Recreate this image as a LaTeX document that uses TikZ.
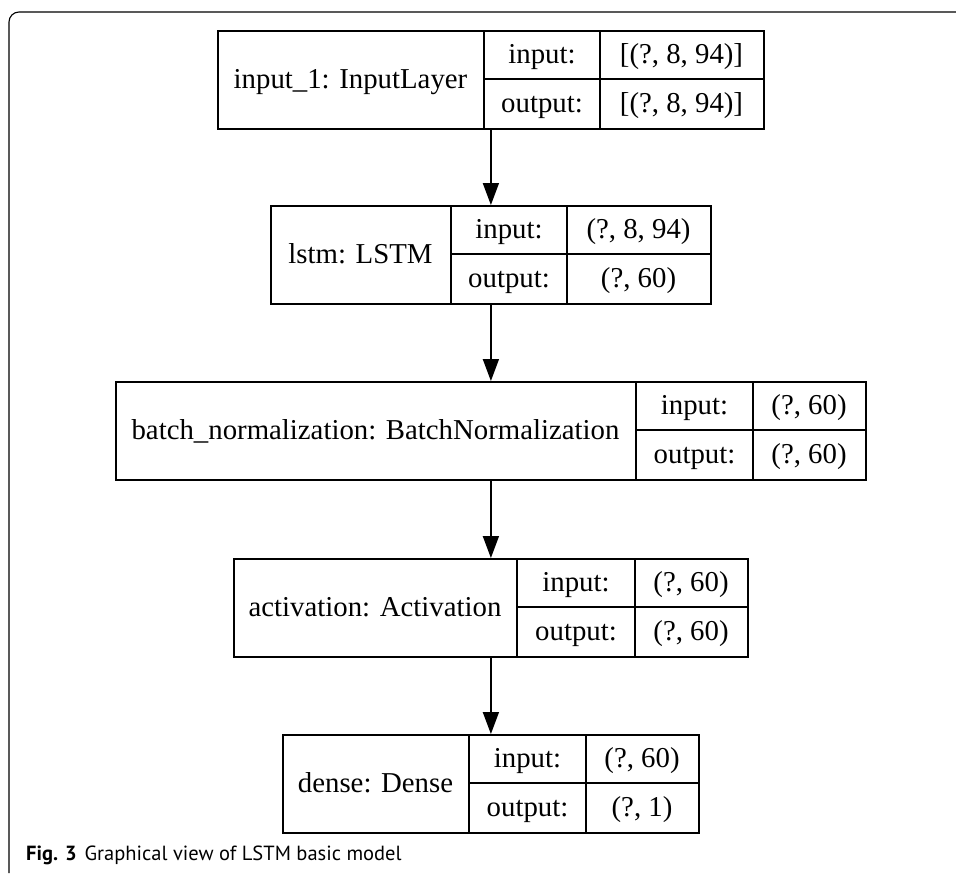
\documentclass[tikz,border=0pt]{standalone}
\usepackage{fontspec}
\setmainfont{Liberation Serif}
\newfontfamily\capfont{PT Sans}
\usetikzlibrary{arrows.meta}
\tikzset{
  layerbox/.style={draw, line width=1.8pt, anchor=north west, inner sep=0pt, minimum height=98pt},
  divider/.style={line width=1.8pt},
  txt/.style={font=\fontsize{28.8}{32}\selectfont, inner sep=0pt, text height=18pt, text depth=0pt},
  flow/.style={line width=1.8pt, -{Triangle[width=16pt,length=22pt]}},
  framestyle/.style={line width=1.1pt, rounded corners=10pt},
}
\newcommand\mklayer[9]{%
  \node[layerbox, minimum width={#5-#2}] (#1) at (#2,#6) {};
  \draw[divider] (#3,#6) -- ({#3},{#6+98});
  \draw[divider] (#4,#6) -- ({#4},{#6+98});
  \draw[divider] ({#3},{#6+49}) -- ({#5},{#6+49});
  \node[txt] (#1name) at ({(#2+#3)/2},{#6+49}) {#7};
  \node[txt] (#1il) at ({(#3+#4)/2},{#6+24.5}) {input:};
  \node[txt] (#1ol) at ({(#3+#4)/2},{#6+73.5}) {output:};
  \node[txt] (#1iv) at ({(#4+#5)/2},{#6+24.5}) {#8};
  \node[txt] (#1ov) at ({(#4+#5)/2},{#6+73.5}) {#9};
}
\begin{document}
\begin{tikzpicture}[x=1pt,y=-1pt]
\useasboundingbox (0,0) rectangle (956,873);
\draw[framestyle] (957,12) -- (9,12) -- (9,873);
\mklayer{L1}{217}{484}{600}{763}{30}{input\_1: InputLayer}{[(?, 8, 94)]}{[(?, 8, 94)]}
\mklayer{L2}{270}{451}{567}{710}{205}{lstm: LSTM}{(?, 8, 94)}{(?, 60)}
\mklayer{L3}{115}{636}{753}{865}{381}{batch\_normalization: BatchNormalization}{(?, 60)}{(?, 60)}
\mklayer{L4}{233}{517}{635}{747}{558}{activation: Activation}{(?, 60)}{(?, 60)}
\mklayer{L5}{282}{469}{586}{698}{734}{dense: Dense}{(?, 60)}{(?, 1)}
\draw[flow] (L1.south) -- (L2.north);
\draw[flow] (L2.south) -- (L3.north);
\draw[flow] (L3.south) -- (L4.north);
\draw[flow] (L4.south) -- (L5.north);
\node[anchor=base west, inner sep=0pt, font=\capfont\fontsize{20.5}{24}\selectfont] (cap) at (26,860)
  {\textbf{Fig. 3}\hspace{8pt}Graphical view of LSTM basic model};
\end{tikzpicture}
\end{document}
